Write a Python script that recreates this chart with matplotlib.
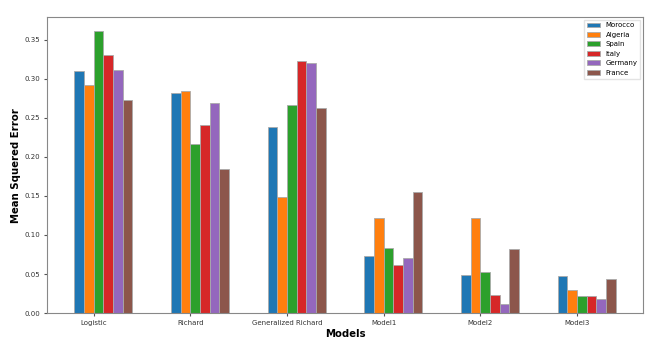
import matplotlib
matplotlib.use("Agg")
import matplotlib.pyplot as plt
import numpy as np

MODELS = ["Logistic", "Richard", "Generalized Richard", "Model1", "Model2", "Model3"]
COUNTRIES = ["Morocco", "Algeria", "Spain", "Italy", "Germany", "France"]

morocco = [0.310, 0.282, 0.238, 0.073, 0.049, 0.047]
algeria = [0.292, 0.284, 0.149, 0.122, 0.122, 0.030]
spain = [0.361, 0.217, 0.266, 0.083, 0.052, 0.022]
italy = [0.330, 0.241, 0.323, 0.061, 0.023, 0.022]
germany = [0.311, 0.269, 0.321, 0.070, 0.012, 0.018]
france = [0.273, 0.184, 0.263, 0.155, 0.082, 0.043]

SERIES = [morocco, algeria, spain, italy, germany, france]
COLORS = ["#1f77b4", "#ff7f0e", "#2ca02c", "#d62728", "#9467bd", "#8c564b"]

fig, ax = plt.subplots(figsize=(6.58, 3.44), dpi=100)
x = np.arange(len(MODELS))
w = 0.1
for i, (name, vals, color) in enumerate(zip(COUNTRIES, SERIES, COLORS)):
    ax.bar(x + (i - 1.5) * w, vals, width=w, color=color, label=name,
           edgecolor="#aaaaaa", linewidth=0.6)

ax.set_xticks(x, MODELS, fontsize=5)
ax.tick_params(axis="y", labelsize=5)
ax.tick_params(length=2.5, pad=2.5, color="#555555", labelcolor="#333333")
ax.set_xlabel("Models", fontsize=7.3, fontweight="bold", labelpad=2)
ax.set_ylabel("Mean Squered Error", fontsize=7.3, fontweight="bold", labelpad=3)
for s in ax.spines.values():
    s.set_color("#888888")
ax.legend(loc="upper right", fontsize=5, handlelength=1.9, borderpad=0.4,
          labelspacing=0.5, borderaxespad=0.35, fancybox=False,
          edgecolor="#dddddd")

fig.subplots_adjust(left=0.072, right=0.977, top=0.95, bottom=0.09)
fig.savefig("out.png")
